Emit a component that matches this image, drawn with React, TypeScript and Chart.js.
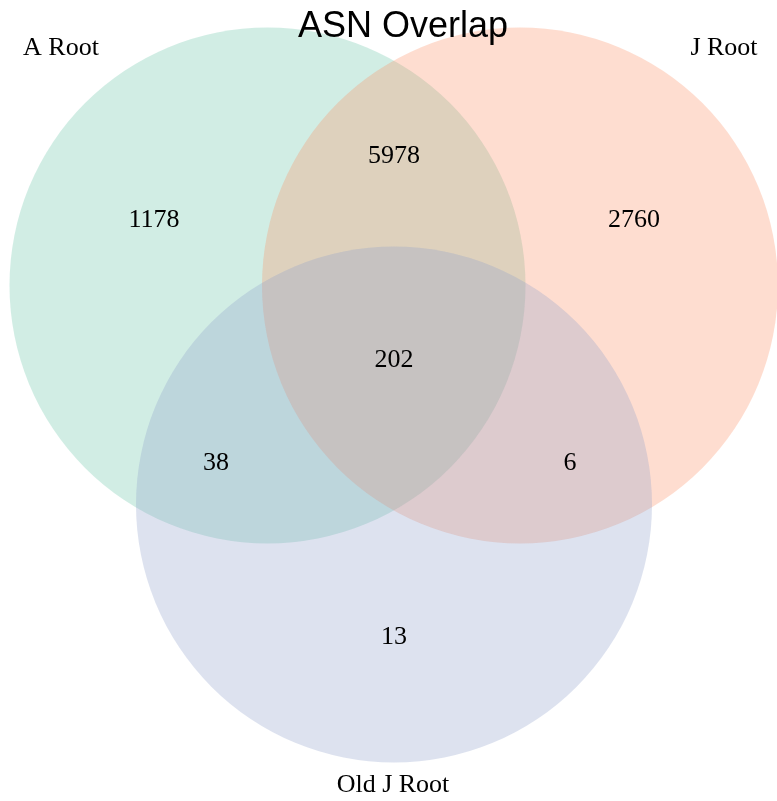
import React, { useEffect, useRef } from "react";
import { Chart, registerables } from "chart.js";

Chart.register(...registerables);

const titleText = "ASN Overlap";
const setNames = ["A Root", "J Root", "Old J Root"];
const setCentersX = [267.5, 520, 394];
const setCentersY = [285.5, 285.5, 504.5];
const setRadii = [258, 258, 258];
const setColors = ["rgba(102,194,165,0.3)", "rgba(252,141,98,0.3)", "rgba(141,160,203,0.3)"];
const setLabelX = [61, 724, 393];
const setLabelY = [48, 48, 785];

const regionValues = ["1178", "5978", "2760", "202", "38", "6", "13"];
const regionX = [154, 394, 634, 394, 216, 570, 394];
const regionY = [220, 156, 220, 360, 463, 463, 637];

const X_MIN = 0, X_MAX = 777, Y_MIN = 0, Y_MAX = 801;

const vennText = {
  id: "vennText",
  afterDatasetsDraw(chart: any) {
    const { ctx, scales } = chart;
    const xs = scales.x, ys = scales.y;
    ctx.save();
    ctx.fillStyle = "#000";
    ctx.textAlign = "center";
    ctx.textBaseline = "middle";
    ctx.font = "26px 'Liberation Serif', 'Times New Roman', serif";
    regionValues.forEach((v, i) => {
      ctx.fillText(v, xs.getPixelForValue(regionX[i]), ys.getPixelForValue(regionY[i]));
    });
    setNames.forEach((n, i) => {
      ctx.fillText(n, xs.getPixelForValue(setLabelX[i]), ys.getPixelForValue(setLabelY[i]));
    });
    ctx.font = "36px 'Liberation Sans', Arial, sans-serif";
    ctx.textBaseline = "alphabetic";
    ctx.fillText(titleText, xs.getPixelForValue(403), ys.getPixelForValue(37));
    ctx.restore();
  },
};

export default function App() {
  const ref = useRef<HTMLCanvasElement>(null);
  useEffect(() => {
    if (!ref.current) return;
    const data = setNames.map((n, i) => ({ x: setCentersX[i], y: setCentersY[i], r: setRadii[i] }));
    const radiusFn = (c: any) => {
      const raw = c.raw;
      if (!raw) return 0;
      const s = c.chart.scales.x;
      return Math.abs(s.getPixelForValue(raw.x + raw.r) - s.getPixelForValue(raw.x));
    };
    const chart = new Chart(ref.current, {
      type: "scatter",
      data: {
        datasets: [
          {
            label: "sets",
            data,
            backgroundColor: setColors,
            borderWidth: 0,
            pointBorderWidth: 0,
            pointRadius: radiusFn,
            pointHoverRadius: radiusFn,
          } as any,
        ],
      },
      options: {
        animation: false,
        responsive: false,
        events: [],
        layout: { padding: 0 },
        plugins: { legend: { display: false }, tooltip: { enabled: false }, title: { display: false } },
        scales: {
          x: { type: "linear", min: X_MIN, max: X_MAX, display: false },
          y: { type: "linear", min: Y_MIN, max: Y_MAX, reverse: true, display: false },
        },
      },
      plugins: [vennText],
    });
    return () => chart.destroy();
  }, []);
  return (
    <div style={{ position: "absolute", left: 0, top: 0, width: 777, height: 801, background: "#fff" }}>
      <canvas ref={ref} width={777} height={801} />
    </div>
  );
}
